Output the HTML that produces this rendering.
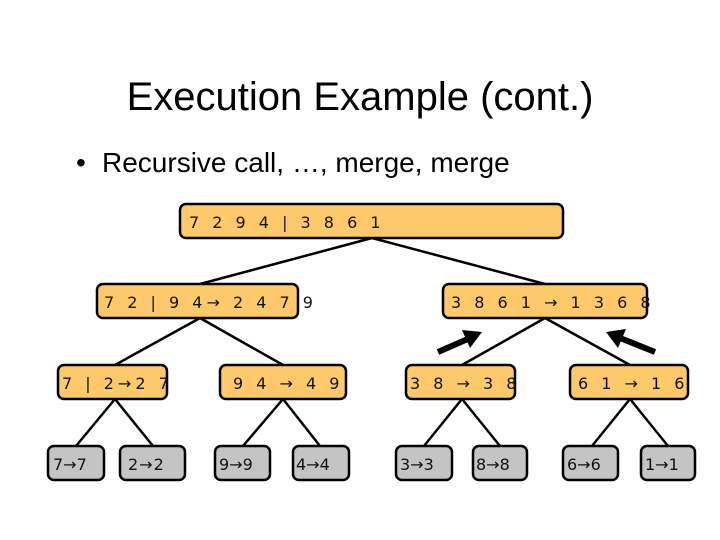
<!DOCTYPE html>
<html><head><meta charset="utf-8"><style>
html,body{margin:0;padding:0;background:#fff;}
svg{display:block;}
.t{font-family:"DejaVu Sans",sans-serif;font-size:16px;fill:#111;letter-spacing:4px;}
.o{fill:#fdc96b;stroke:#000;stroke-width:2.5;}
.g{fill:#c4c4c4;stroke:#000;stroke-width:2.5;}
.l{stroke:#000;stroke-width:2.5;}
</style></head><body>
<svg width="720" height="540" xmlns="http://www.w3.org/2000/svg">
<text x="360" y="110" text-anchor="middle" font-family="Liberation Sans,sans-serif" font-size="40" fill="#000">Execution Example (cont.)</text>
<text x="76" y="172" font-family="Liberation Sans,sans-serif" font-size="28" fill="#000">•</text>
<text x="102" y="172" font-family="Liberation Sans,sans-serif" font-size="28" fill="#000">Recursive call, …, merge, merge</text>

<!-- connectors -->
<line class="l" x1="372" y1="238" x2="200" y2="284"/>
<line class="l" x1="372" y1="238" x2="545" y2="284"/>
<line class="l" x1="200" y1="318" x2="115" y2="365"/>
<line class="l" x1="200" y1="318" x2="283" y2="365"/>
<line class="l" x1="545" y1="318" x2="462" y2="365"/>
<line class="l" x1="545" y1="318" x2="630" y2="365"/>
<line class="l" x1="115" y1="399" x2="76" y2="446"/>
<line class="l" x1="115" y1="399" x2="153" y2="446"/>
<line class="l" x1="283" y1="399" x2="243" y2="446"/>
<line class="l" x1="283" y1="399" x2="320" y2="446"/>
<line class="l" x1="462" y1="399" x2="424" y2="446"/>
<line class="l" x1="462" y1="399" x2="500" y2="446"/>
<line class="l" x1="630" y1="399" x2="592" y2="446"/>
<line class="l" x1="630" y1="399" x2="668" y2="446"/>

<!-- thick arrows -->
<line x1="438" y1="352" x2="470" y2="338" stroke="#000" stroke-width="6"/>
<polygon points="482,332 462,330 470,348" fill="#000"/>
<line x1="655" y1="352" x2="620" y2="338" stroke="#000" stroke-width="6"/>
<polygon points="606,332 626,329 618,348" fill="#000"/>

<!-- boxes -->
<rect class="o" x="180" y="204" width="383" height="34" rx="6"/>
<text class="t" x="189" y="228">7 2 9 4 | 3 8 6 1</text>

<rect class="o" x="97" y="284" width="201" height="34" rx="6"/>
<text class="t" x="104" y="308">7 2 | 9 4→ 2 4 7 9</text>
<rect class="o" x="443" y="284" width="204" height="34" rx="6"/>
<text class="t" x="451" y="308">3 8 6 1 → 1 3 6 8</text>

<rect class="o" x="58" y="365" width="109" height="34" rx="6"/>
<text class="t" x="62" y="389">7 | 2→2 7</text>
<rect class="o" x="220" y="365" width="126" height="34" rx="6"/>
<text class="t" x="233" y="389">9 4 → 4 9</text>
<rect class="o" x="406" y="365" width="109" height="34" rx="6"/>
<text class="t" x="410" y="389">3 8 → 3 8</text>
<rect class="o" x="570" y="365" width="118" height="34" rx="6"/>
<text class="t" x="578" y="389">6 1 → 1 6</text>

<g style="letter-spacing:0">
<rect class="g" x="48" y="446" width="56" height="34" rx="6"/>
<text class="t" x="53" y="470" style="letter-spacing:0">7→7</text>
<rect class="g" x="120" y="446" width="65" height="34" rx="6"/>
<text class="t" x="128" y="470" style="letter-spacing:1px">2→2</text>
<rect class="g" x="215" y="446" width="55" height="34" rx="6"/>
<text class="t" x="219" y="470" style="letter-spacing:0">9→9</text>
<rect class="g" x="293" y="446" width="56" height="34" rx="6"/>
<text class="t" x="296" y="470" style="letter-spacing:0">4→4</text>
<rect class="g" x="396" y="446" width="56" height="34" rx="6"/>
<text class="t" x="400" y="470" style="letter-spacing:0">3→3</text>
<rect class="g" x="473" y="446" width="54" height="34" rx="6"/>
<text class="t" x="476" y="470" style="letter-spacing:0">8→8</text>
<rect class="g" x="563" y="446" width="55" height="34" rx="6"/>
<text class="t" x="567" y="470" style="letter-spacing:0">6→6</text>
<rect class="g" x="641" y="446" width="54" height="34" rx="6"/>
<text class="t" x="645" y="470" style="letter-spacing:0">1→1</text>
</g>
</svg>
</body></html>
